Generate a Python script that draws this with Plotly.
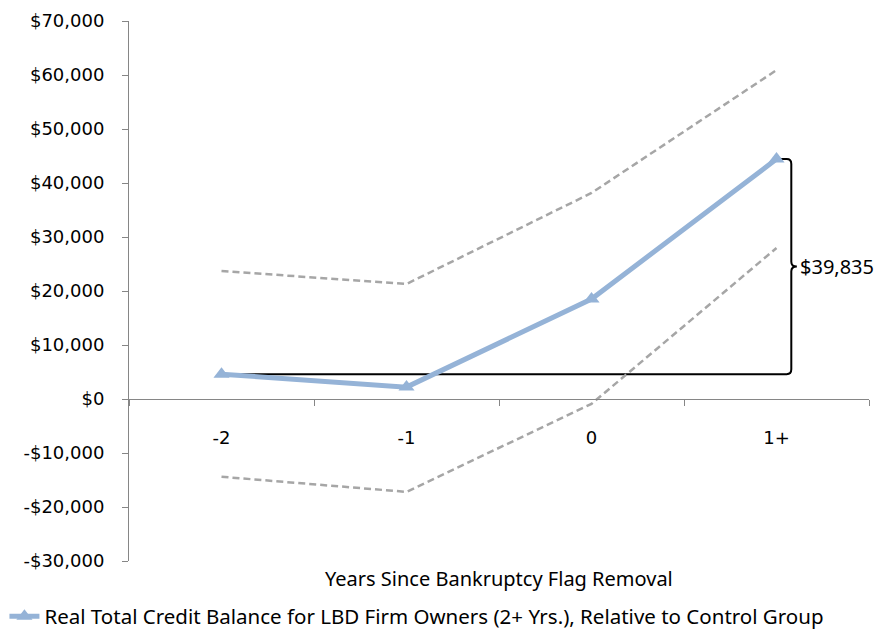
import plotly.graph_objects as go

# Event-time categories (years since the bankruptcy flag was removed)
categories = ["-2", "-1", "0", "1+"]
positions = [0, 1, 2, 3]

# Point estimates and 95% confidence bounds (real dollars)
estimate = [4600, 2200, 18500, 44435]
upper_ci = [23700, 21300, 38150, 60900]
lower_ci = [-14400, -17200, -900, 27960]

# Change from the first period to the last, shown by the bracket
change_label = "$39,835"
y_ticks = [-30000, -20000, -10000, 0, 10000, 20000, 30000, 40000, 50000, 60000, 70000]

FONT = "Noto Sans"
TICK_FONT = "DejaVu Sans"
AXIS_GRAY = "#868686"
CI_GRAY = "#a6a6a6"
MAIN_BLUE = "#95b3d7"

fig = go.Figure()

for bound in (upper_ci, lower_ci):
    fig.add_trace(go.Scatter(
        x=positions, y=bound, mode="lines",
        line=dict(color=CI_GRAY, width=2.5, dash="7px,4px"),
        showlegend=False, hoverinfo="skip",
    ))

fig.add_trace(go.Scatter(
    x=positions, y=estimate, mode="lines+markers",
    name="Real Total Credit Balance for LBD Firm Owners (2+ Yrs.), Relative to Control Group",
    line=dict(color=MAIN_BLUE, width=5),
    marker=dict(symbol="triangle-up", size=14, color=MAIN_BLUE),
))

# Bracket from the first-period level up to the last-period estimate
base = estimate[0]
top = base + 39835
mid = (top + base) / 2
cy = 900
xv = 3.08
path = (
    f"M 0,{base} L 3.055,{base} Q {xv},{base} {xv},{base + cy} "
    f"L {xv},{mid - cy} Q {xv},{mid} 3.11,{mid} Q {xv},{mid} {xv},{mid + cy} "
    f"L {xv},{top - cy} Q {xv},{top} 3.055,{top} L 3.015,{top}"
)
fig.add_shape(type="path", path=path, xref="x", yref="y",
              line=dict(color="black", width=2), layer="below")

fig.add_annotation(x=3.115, y=mid, xref="x", yref="y", text=change_label,
                   showarrow=False, xanchor="left", yanchor="middle",
                   font=dict(family=FONT, size=20, color="black"))

fig.add_annotation(x=0.5, y=-0.0315, xref="paper", yref="paper",
                   text="Years Since Bankruptcy Flag Removal", showarrow=False,
                   xanchor="center", yanchor="middle",
                   font=dict(family=FONT, size=20, color="black"))

fig.update_layout(
    width=887, height=629,
    margin=dict(l=129, r=18, t=21, b=68, autoexpand=False),
    plot_bgcolor="white", paper_bgcolor="white",
    font=dict(family=FONT, color="black"),
    xaxis=dict(
        range=[-0.5, 3.5], tickmode="array", tickvals=positions, ticktext=categories,
        ticks="", showgrid=False, zeroline=False,
        showline=True, linecolor=AXIS_GRAY, linewidth=1,
        anchor="free", position=0.3,
        tickfont=dict(family=TICK_FONT, size=18, color="black"),
        ticklabelstandoff=22,
        minor=dict(tickmode="array", tickvals=[-0.5, 0.5, 1.5, 2.5, 3.5],
                   ticks="outside", ticklen=6, tickcolor=AXIS_GRAY, showgrid=False),
    ),
    yaxis=dict(
        range=[-30000, 70000], tickmode="array", tickvals=y_ticks,
        ticktext=[("-$" if v < 0 else "$") + f"{abs(v):,}" for v in y_ticks],
        ticks="outside", ticklen=6, tickcolor=AXIS_GRAY,
        showgrid=False, zeroline=False,
        showline=True, linecolor=AXIS_GRAY, linewidth=1,
        tickfont=dict(family=TICK_FONT, size=18, color="black"),
        ticklabelstandoff=14,
    ),
    legend=dict(
        orientation="h", xref="container", yref="container",
        x=0.005, y=0.02, xanchor="left", yanchor="middle",
        font=dict(family=FONT, size=20.5, color="black"),
        itemwidth=30,
    ),
)

fig.write_html("out.html")
